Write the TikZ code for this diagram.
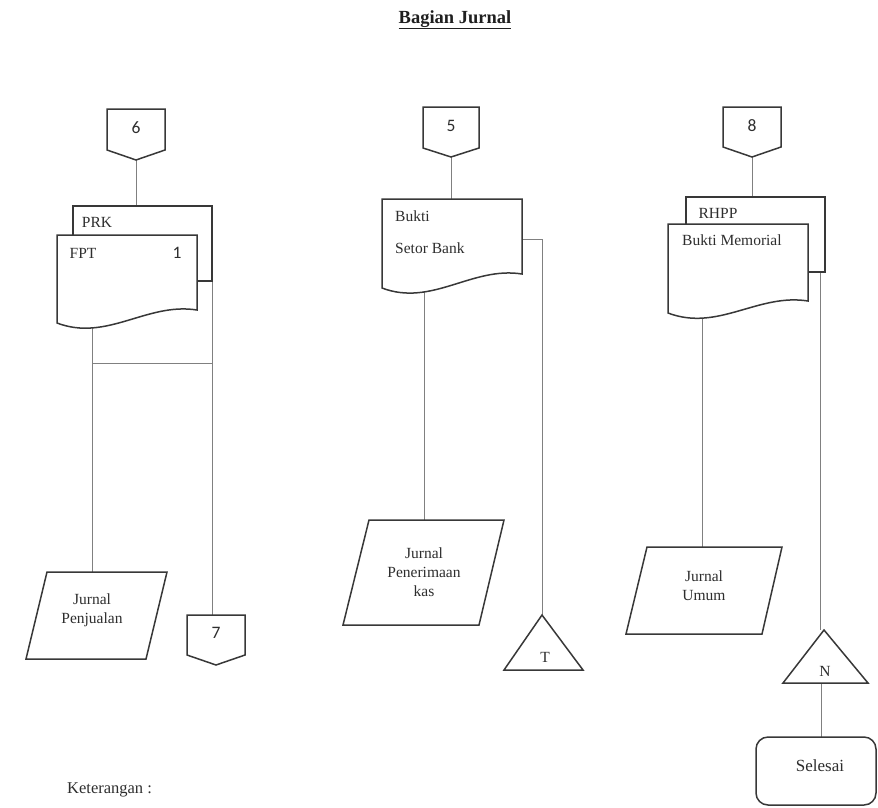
\documentclass[tikz,border=0pt]{standalone}
\usepackage{fontspec}
\setmainfont{Liberation Serif}
\newfontfamily\numfont{Carlito}
\begin{document}
\begin{tikzpicture}[x=1pt,y=-1pt,
  shapeline/.style={draw=black!78, line width=1.5pt, fill=white, line join=miter},
  link/.style={draw=black!50, line width=0.9pt},
  txt/.style={text=black!82, font=\fontsize{15.5}{17}\selectfont, inner sep=0pt},
  num/.style={text=black!82, font=\numfont\fontsize{17.5}{19}\selectfont, inner sep=0pt},
  small/.style={text=black!82, font=\fontsize{15.5}{17}\selectfont, inner sep=0pt}]
\useasboundingbox (0,0) rectangle (878,807);

% ---------- anchor points of the connectors ----------
\coordinate (c6tip) at (136,160);   \coordinate (prktop) at (136,206);
\coordinate (fptbot) at (92,300);   \coordinate (jpjtop) at (92,572);
\coordinate (prkcorner) at (212,281); \coordinate (c7top) at (212,615);
\coordinate (hleft) at (92,363);    \coordinate (hright) at (212,363);

\coordinate (c5tip) at (451,157);   \coordinate (bsbtop) at (451,199);
\coordinate (bsbbot) at (424,280);  \coordinate (jpktop) at (424,520);
\coordinate (bsbside) at (522,239); \coordinate (ttop) at (542,615);

\coordinate (c8tip) at (752,157);   \coordinate (rhpptop) at (752,197);
\coordinate (bmbot) at (702,300);   \coordinate (jutop) at (702,547);
\coordinate (rhppbot) at (820,272); \coordinate (ntop) at (820,630);
\coordinate (nbase) at (821,683);   \coordinate (seltop) at (821,737);

% ---------- connectors ----------
\draw[link] (c6tip) -- (prktop);
\draw[link] (fptbot) -- (jpjtop);
\draw[link] (prkcorner) -- (c7top);
\draw[link] (hleft) -- (hright);
\draw[link] (c5tip) -- (bsbtop);
\draw[link] (bsbbot) -- (jpktop);
\draw[link] (bsbside) -| (ttop);
\draw[link] (c8tip) -- (rhpptop);
\draw[link] (bmbot) -- (jutop);
\draw[link] (rhppbot) -- (ntop);
\draw[link] (nbase) -- (seltop);

% ---------- title ----------
\node[anchor=base, text=black!88, font=\bfseries\fontsize{18.5}{20}\selectfont, inner sep=0pt]
  (title) at (455,23) {\underline{Bagian Jurnal}};

% ---------- column 1 ----------
\draw[shapeline] (107,109) -- (165,109) -- (165,150) -- (136,160) -- (107,150) -- cycle;
\node[num] (c6) at (136,128) {6};

\draw[shapeline] (73,206) rectangle (212,281);
\draw[shapeline] (57,235) -- (197,235) -- (197,310)
  .. controls (147,302) and (107,342) .. (57,323) -- cycle;
\node[txt] (prk) at (97,222) {PRK};
\node[txt] (fpt) at (83,253) {FPT};
\node[num] (one) at (177,253) {1};

\draw[shapeline] (47,572) -- (167,572) -- (146,659) -- (26,659) -- cycle;
\node[txt, align=center] (jpj) at (92,610) {Jurnal\\[2pt]Penjualan};

\draw[shapeline] (187,615) -- (245,615) -- (245,655) -- (216,665) -- (187,655) -- cycle;
\node[num] (c7) at (216,633) {7};

% ---------- column 2 ----------
\draw[shapeline] (423,107) -- (479,107) -- (479,148) -- (451,157) -- (423,148) -- cycle;
\node[num] (c5) at (451,126) {5};

\draw[shapeline] (382,199) -- (522,199) -- (522,274)
  .. controls (472,266) and (432,307) .. (382,288) -- cycle;
\node[txt, anchor=west] (bukti) at (395,216) {Bukti};
\node[txt, anchor=west] (setor) at (395,248) {Setor Bank};

\draw[shapeline] (369,520) -- (504,520) -- (479,625) -- (343,625) -- cycle;
\node[txt, align=center] (jpk) at (424,572) {Jurnal\\[2pt]Penerimaan\\[2pt]kas};

\draw[shapeline] (542,615) -- (583,670) -- (504,670) -- cycle;
\node[small] (t) at (545,657) {T};

% ---------- column 3 ----------
\draw[shapeline] (723,107) -- (781,107) -- (781,147) -- (752,157) -- (723,147) -- cycle;
\node[num] (c8) at (752,126) {8};

\draw[shapeline] (686,197) rectangle (825,272);
\draw[shapeline] (668,224) -- (808,224) -- (808,301)
  .. controls (758,293) and (718,332) .. (668,313) -- cycle;
\node[txt] (rhpp) at (718,213) {RHPP};
\node[txt, anchor=west] (bm) at (682,240) {Bukti Memorial};

\draw[shapeline] (647,547) -- (782,547) -- (762,634) -- (626,634) -- cycle;
\node[txt, align=center] (ju) at (704,586) {Jurnal\\[2pt]Umum};

\draw[shapeline] (824,630) -- (868,683) -- (783,683) -- cycle;
\node[small] (n) at (825,671) {N};

\draw[shapeline, rounded corners=12pt] (756,737) rectangle (876,805);
\node[txt, font=\fontsize{17}{19}\selectfont] (sel) at (820,766) {Selesai};

% ---------- footer ----------
\node[anchor=base west, text=black!82, font=\fontsize{16.5}{18}\selectfont, inner sep=0pt]
  (ket) at (67,793) {Keterangan :};
\end{tikzpicture}
\end{document}
